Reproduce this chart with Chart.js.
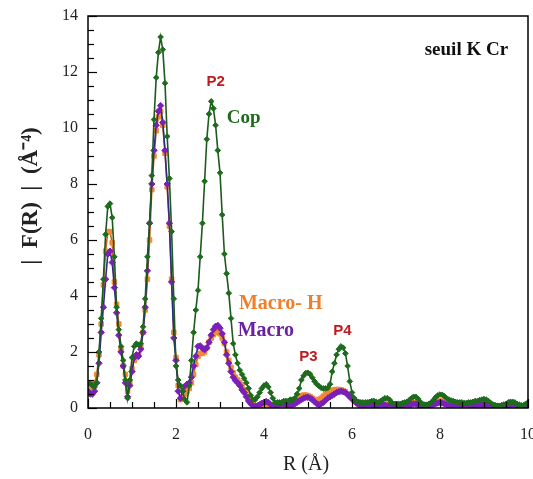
<!DOCTYPE html>
<html>
<head>
<meta charset="utf-8">
<script src="https://cdn.jsdelivr.net/npm/chart.js@4"></script>
<style>
body{margin:0;background:#fff;}
#wrap{width:533px;height:479px;}
</style>
</head>
<body>
<div id="wrap"><canvas id="c" width="533" height="479"></canvas></div>
<script>
// R grid (Å), 0.05 step from 0 to 10
const R = Array.from({length:201},(_,i)=>+(i*0.05).toFixed(2));

// Cop (green)
const cop = [
0.85,0.88,0.8,0.75,0.9,2.0,3.2,4.6,6.2,7.2, 7.3,6.8,5.4,3.6,2.8,2.2,1.7,1.0,0.35,1.0,
1.8,2.2,2.3,2.25,2.3,2.9,3.9,5.4,6.6,8.3, 10.3,11.8,12.7,13.25,12.8,11.6,9.7,8.2,6.3,3.9,
1.5,1.0,0.8,0.6,0.3,0.2,0.8,1.7,2.7,3.5, 4.2,5.4,6.6,8.1,9.6,10.5,10.95,10.7,10.1,9.2,
8.4,6.9,5.5,4.8,4.1,3.2,2.3,1.9,1.6,1.35, 1.2,1.05,0.9,0.7,0.45,0.3,0.3,0.4,0.55,0.7,
0.8,0.85,0.75,0.55,0.35,0.2,0.2,0.2,0.2,0.25, 0.25,0.25,0.3,0.3,0.35,0.5,0.7,1.0,1.15,1.25,
1.26,1.2,1.08,0.95,0.85,0.78,0.72,0.7,0.7,0.72, 0.85,1.3,1.6,1.9,2.1,2.2,2.15,1.95,1.5,0.95,
0.55,0.35,0.25,0.22,0.2,0.2,0.2,0.2,0.22,0.25, 0.25,0.22,0.2,0.25,0.3,0.35,0.35,0.3,0.2,0.15,
0.15,0.15,0.15,0.18,0.2,0.22,0.28,0.35,0.4,0.4, 0.33,0.22,0.15,0.12,0.12,0.15,0.2,0.28,0.38,0.45,
0.48,0.47,0.42,0.35,0.3,0.27,0.25,0.22,0.2,0.2, 0.2,0.18,0.18,0.2,0.2,0.22,0.25,0.25,0.28,0.3,
0.32,0.3,0.25,0.18,0.12,0.1,0.08,0.08,0.1,0.12, 0.15,0.2,0.22,0.22,0.2,0.15,0.12,0.1,0.1,0.15,
0.2];

// Macro-H (orange)
const macroH = [
0.6,0.7,0.75,0.9,1.2,1.9,3.0,4.4,5.6,6.3, 6.3,5.9,4.5,3.7,3.0,2.1,1.5,1.2,0.6,0.9,
1.4,1.7,1.8,1.9,2.2,2.7,3.5,4.6,6.0,7.8, 9.0,9.9,10.4,10.6,10.1,9.1,7.9,6.5,4.6,2.7,
1.8,0.8,0.3,0.35,0.5,0.6,0.7,0.9,1.2,1.55, 1.85,1.95,1.95,2.0,2.15,2.35,2.5,2.62,2.7,2.72,
2.65,2.5,2.3,2.0,1.7,1.45,1.25,1.1,1.0,0.9, 0.8,0.65,0.5,0.35,0.22,0.12,0.08,0.05,0.05,0.08,
0.1,0.12,0.12,0.1,0.1,0.12,0.15,0.15,0.12,0.08, 0.06,0.08,0.12,0.2,0.28,0.35,0.4,0.44,0.46,0.46,
0.44,0.4,0.35,0.3,0.28,0.3,0.35,0.42,0.5,0.55, 0.6,0.63,0.65,0.66,0.66,0.65,0.62,0.58,0.5,0.42,
0.35,0.28,0.2,0.14,0.1,0.08,0.08,0.1,0.12,0.14, 0.12,0.1,0.1,0.12,0.15,0.15,0.12,0.1,0.1,0.12,
0.12,0.1,0.1,0.12,0.14,0.15,0.15,0.15,0.18,0.2, 0.18,0.15,0.12,0.1,0.1,0.12,0.15,0.18,0.2,0.22,
0.25,0.25,0.22,0.18,0.15,0.15,0.15,0.14,0.12,0.12, 0.12,0.14,0.14,0.12,0.1,0.1,0.12,0.14,0.15,0.15,
0.15,0.14,0.12,0.1,0.08,0.06,0.05,0.05,0.06,0.08, 0.1,0.1,0.08,0.08,0.1,0.1,0.08,0.06,0.06,0.08,
0.1];

// Macro (purple)
const macro = [
0.6,0.5,0.5,0.6,0.9,1.6,2.7,3.6,4.6,5.5, 5.6,5.2,4.3,3.4,2.6,2.0,1.5,0.9,0.4,0.8,
1.3,1.8,1.9,1.85,2.1,2.7,3.6,4.9,6.6,8.0, 9.2,10.1,10.6,10.8,10.2,9.2,8.0,6.6,4.5,2.5,
1.7,0.6,0.35,0.6,0.78,0.85,0.9,1.1,1.5,1.85, 2.2,2.22,2.13,2.08,2.15,2.35,2.6,2.8,2.92,2.95,
2.85,2.65,2.35,1.9,1.6,1.3,1.1,0.98,0.9,0.8, 0.65,0.55,0.4,0.25,0.15,0.08,0.05,0.08,0.12,0.17,
0.2,0.23,0.2,0.12,0.08,0.06,0.08,0.12,0.15,0.15, 0.12,0.1,0.1,0.12,0.15,0.2,0.25,0.3,0.35,0.38,
0.38,0.35,0.3,0.22,0.15,0.12,0.15,0.2,0.28,0.35, 0.4,0.45,0.5,0.55,0.58,0.6,0.58,0.55,0.48,0.4,
0.32,0.25,0.18,0.12,0.1,0.08,0.08,0.1,0.12,0.1, 0.08,0.08,0.1,0.12,0.12,0.1,0.08,0.08,0.1,0.12,
0.12,0.1,0.08,0.06,0.06,0.08,0.1,0.12,0.15,0.15, 0.12,0.08,0.06,0.06,0.08,0.08,0.1,0.12,0.15,0.18,
0.2,0.18,0.15,0.12,0.1,0.1,0.12,0.12,0.1,0.08, 0.08,0.1,0.12,0.1,0.08,0.08,0.1,0.12,0.12,0.1,
0.1,0.1,0.12,0.12,0.1,0.08,0.06,0.06,0.08,0.1, 0.1,0.08,0.06,0.08,0.1,0.1,0.08,0.06,0.06,0.08,
0.1];

const xTicks = [0,2,4,6,8,10];
const yTicks = [0,2,4,6,8,10,12,14];

const labels = [
 {t:'seuil K Cr', x:8.6, y:12.8, c:'#111', f:'bold 19px "Liberation Serif"'},
 {t:'P2', x:2.9, y:11.65, c:'#c01a1e', f:'bold 15px "Liberation Sans"'},
 {t:'Cop', x:3.54, y:10.36, c:'#1e6b1e', f:'bold 19px "Liberation Serif"'},
 {t:'Macro- H', x:4.38, y:3.71, c:'#f07f2a', f:'bold 20px "Liberation Serif"'},
 {t:'Macro', x:4.04, y:2.75, c:'#6a22a0', f:'bold 20px "Liberation Serif"'},
 {t:'P3', x:5.01, y:1.82, c:'#c01a1e', f:'bold 15px "Liberation Sans"'},
 {t:'P4', x:5.78, y:2.75, c:'#c01a1e', f:'bold 15px "Liberation Sans"'}
];

function pts(v){return R.map((r,i)=>({x:r,y:v[i]}));}

const frame = {
 id:'frame',
 afterDatasetsDraw(ch){
  const {ctx,chartArea:a,scales:{x,y}} = ch;
  ctx.save();
  ctx.strokeStyle='#000';
  ctx.lineWidth=1.5;
  ctx.strokeRect(a.left,a.top,a.right-a.left,a.bottom-a.top);
  ctx.lineWidth=1.2;
  for(let v=0;v<=10.001;v+=0.5){
   const px=Math.round(x.getPixelForValue(v))+0.5;
   const L=(Math.abs(v%2)<1e-6)?9:6;
   ctx.beginPath();ctx.moveTo(px,a.bottom);ctx.lineTo(px,a.bottom-L);ctx.stroke();
  }
  for(let v=0;v<=14.001;v+=0.5){
   const py=Math.round(y.getPixelForValue(v))+0.5;
   const L=(Math.abs(v%2)<1e-6)?9:6;
   ctx.beginPath();ctx.moveTo(a.left,py);ctx.lineTo(a.left+L,py);ctx.stroke();
  }
  ctx.restore();
 },
 afterDraw(ch){
  const {ctx,scales:{x,y}} = ch;
  ctx.save();
  ctx.textAlign='center';ctx.textBaseline='middle';
  labels.forEach(l=>{ctx.font=l.f;ctx.fillStyle=l.c;ctx.fillText(l.t,x.getPixelForValue(l.x),y.getPixelForValue(l.y));});
  ctx.fillStyle='#222';
  ctx.font='20px "Liberation Serif"';
  ctx.fillText('R (Å)',306,465);
  ctx.translate(31,196);ctx.rotate(-Math.PI/2);
  ctx.font='bold 23px "Liberation Serif"';
  ctx.fillText('|  F(R)  |  (Å⁻⁴)',0,0);
  ctx.restore();
 }
};

new Chart(document.getElementById('c'),{
 type:'line',
 data:{datasets:[
  {label:'Cop',data:pts(cop),borderColor:'#1d5a1d',borderWidth:1.6,pointStyle:'rectRot',pointRadius:2.8,pointBackgroundColor:'#1e6b1e',pointBorderColor:'#1e6b1e',pointBorderWidth:1,order:0},
  {label:'Macro',data:pts(macro),borderColor:'#2c2c85',borderWidth:1.6,pointStyle:'rectRot',pointRadius:3.2,pointBackgroundColor:'#7a20b8',pointBorderColor:'#7a20b8',pointBorderWidth:1,order:1},
  {label:'Macro-H',data:pts(macroH),borderColor:'#c8651e',borderWidth:1.6,pointStyle:'rect',pointRadius:3.2,pointBackgroundColor:'#f28a33',pointBorderColor:'#f28a33',pointBorderWidth:1,order:2}
 ]},
 options:{
  responsive:false,animation:false,
  layout:{padding:{top:16,right:4,left:0,bottom:0}},
  plugins:{legend:{display:false},tooltip:{enabled:false}},
  scales:{
   x:{type:'linear',min:0,max:10,
    grid:{display:false,drawTicks:false},border:{display:false},
    afterBuildTicks(s){s.ticks=xTicks.map(v=>({value:v}));},
    afterFit(s){s.height=71;s.paddingLeft=0;s.paddingRight=0;},
    ticks:{padding:17,color:'#222',font:{family:'Liberation Serif',size:16},maxRotation:0}},
   y:{min:0,max:14,
    grid:{display:false,drawTicks:false},border:{display:false},
    afterBuildTicks(s){s.ticks=yTicks.map(v=>({value:v}));},
    afterFit(s){s.width=88;s.paddingTop=0;s.paddingBottom=0;},
    ticks:{padding:10,color:'#222',font:{family:'Liberation Serif',size:16}}}
  }
 },
 plugins:[frame]
});
</script>
</body>
</html>
